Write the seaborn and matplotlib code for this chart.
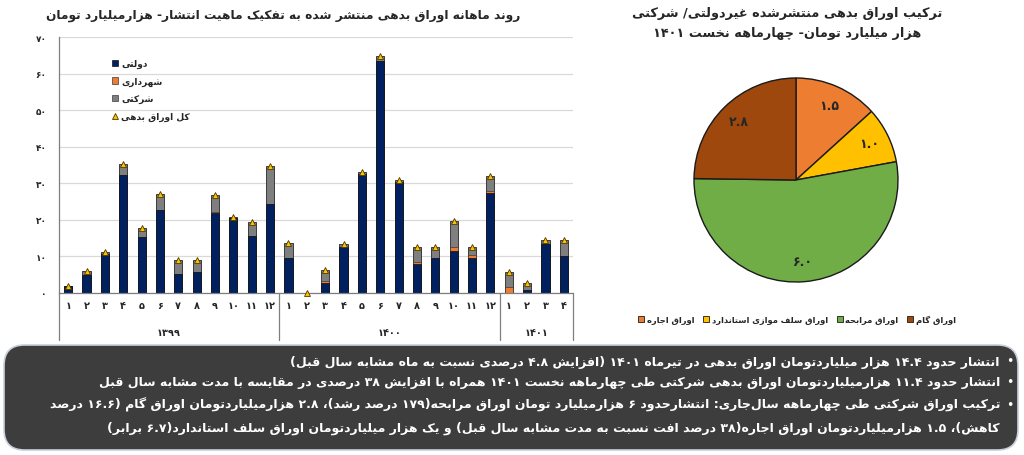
import numpy as np
import pandas as pd
import matplotlib
matplotlib.use("Agg")
import matplotlib.pyplot as plt
import matplotlib.transforms as mtransforms
from matplotlib.patches import FancyBboxPatch, Patch
from matplotlib.lines import Line2D
import seaborn as sns

# ---------------- data ----------------
years = ["۱۳۹۹", "۱۴۰۰", "۱۴۰۱"]
months_per_year = [12, 12, 4]
dolati = [1.8, 4.9, 10.5, 32.3, 15.1, 22.6, 5.0, 5.5, 21.8, 20.3, 15.6, 24.4,
          9.6, 0.0, 2.7, 12.5, 32.5, 63.6, 30.2, 7.8, 9.4, 11.3, 9.6, 27.2,
          0.0, 0.7, 13.3, 9.9]
shahrdari = [0, 0, 0, 0, 0, 0, 0, 0, 0.3, 0, 0, 0,
             0, 0, 0.4, 0, 0, 0, 0, 0.7, 0, 1.3, 0.6, 0.7,
             1.6, 0, 0, 0]
sherkati = [0.0, 1.1, 0.5, 3.0, 2.5, 4.4, 4.0, 3.5, 4.7, 0.3, 3.8, 10.2,
            4.1, 0.0, 3.1, 0.9, 0.6, 1.4, 0.6, 3.9, 3.0, 6.9, 2.3, 4.1,
            3.9, 1.8, 1.1, 4.5]
bar_legend = ["دولتی", "شهرداری", "شرکتی", "کل اوراق بدهی"]

pie_labels = ["اوراق اجاره", "اوراق سلف موازی استاندارد", "اوراق مرابحه", "اوراق گام"]
pie_values = [1.5, 1.0, 6.0, 2.8]
pie_colors = ["#ED7D31", "#FFC000", "#70AD47", "#9E480E"]

title_left = "روند ماهانه اوراق بدهی منتشر شده به تفکیک ماهیت انتشار- هزارمیلیارد تومان"
title_right = ["ترکیب اوراق بدهی منتشرشده غیردولتی/ شرکتی",
               "هزار میلیارد تومان- چهارماهه نخست ۱۴۰۱"]
notes = [
    "انتشار حدود ۱۴.۴ هزار میلیاردتومان اوراق بدهی در تیرماه ۱۴۰۱ (افزایش ۴.۸ درصدی نسبت به ماه مشابه سال قبل)",
    "انتشار حدود ۱۱.۴ هزارمیلیاردتومان اوراق بدهی شرکتی طی چهارماهه نخست ۱۴۰۱ همراه با افزایش ۳۸ درصدی در مقایسه با مدت مشابه سال قبل",
    "ترکیب اوراق شرکتی طی چهارماهه سال\u200cجاری: انتشارحدود ۶ هزارمیلیارد تومان اوراق مرابحه(۱۷۹ درصد رشد)، ۲.۸ هزارمیلیاردتومان اوراق گام (۱۶.۶ درصد",
    "کاهش)، ۱.۵ هزارمیلیاردتومان اوراق اجاره(۳۸ درصد افت نسبت به مدت مشابه سال قبل) و یک هزار میلیاردتومان اوراق سلف استاندارد(۶.۷ برابر)",
]

# ---------------- minimal Persian shaping + bidi ----------------
_F = {
    'ا': (0xFE8D, 0xFE8E, 0, 0), 'آ': (0xFE81, 0xFE82, 0, 0),
    'ب': (0xFE8F, 0xFE90, 0xFE91, 0xFE92), 'پ': (0xFB56, 0xFB57, 0xFB58, 0xFB59),
    'ت': (0xFE95, 0xFE96, 0xFE97, 0xFE98), 'ث': (0xFE99, 0xFE9A, 0xFE9B, 0xFE9C),
    'ج': (0xFE9D, 0xFE9E, 0xFE9F, 0xFEA0), 'چ': (0xFB7A, 0xFB7B, 0xFB7C, 0xFB7D),
    'ح': (0xFEA1, 0xFEA2, 0xFEA3, 0xFEA4), 'خ': (0xFEA5, 0xFEA6, 0xFEA7, 0xFEA8),
    'د': (0xFEA9, 0xFEAA, 0, 0), 'ذ': (0xFEAB, 0xFEAC, 0, 0),
    'ر': (0xFEAD, 0xFEAE, 0, 0), 'ز': (0xFEAF, 0xFEB0, 0, 0), 'ژ': (0xFB8A, 0xFB8B, 0, 0),
    'س': (0xFEB1, 0xFEB2, 0xFEB3, 0xFEB4), 'ش': (0xFEB5, 0xFEB6, 0xFEB7, 0xFEB8),
    'ص': (0xFEB9, 0xFEBA, 0xFEBB, 0xFEBC), 'ض': (0xFEBD, 0xFEBE, 0xFEBF, 0xFEC0),
    'ط': (0xFEC1, 0xFEC2, 0xFEC3, 0xFEC4), 'ظ': (0xFEC5, 0xFEC6, 0xFEC7, 0xFEC8),
    'ع': (0xFEC9, 0xFECA, 0xFECB, 0xFECC), 'غ': (0xFECD, 0xFECE, 0xFECF, 0xFED0),
    'ف': (0xFED1, 0xFED2, 0xFED3, 0xFED4), 'ق': (0xFED5, 0xFED6, 0xFED7, 0xFED8),
    'ک': (0xFB8E, 0xFB8F, 0xFB90, 0xFB91), 'گ': (0xFB92, 0xFB93, 0xFB94, 0xFB95),
    'ل': (0xFEDD, 0xFEDE, 0xFEDF, 0xFEE0), 'م': (0xFEE1, 0xFEE2, 0xFEE3, 0xFEE4),
    'ن': (0xFEE5, 0xFEE6, 0xFEE7, 0xFEE8), 'ه': (0xFEE9, 0xFEEA, 0xFEEB, 0xFEEC),
    'و': (0xFEED, 0xFEEE, 0, 0), 'ی': (0xFBFC, 0xFBFD, 0xFBFE, 0xFBFF),
    'ئ': (0xFE89, 0xFE8A, 0xFE8B, 0xFE8C),
}
_MIRROR = {'(': ')', ')': '(', '[': ']', ']': '[', '<': '>', '>': '<'}
_DIG = set('0123456789۰۱۲۳۴۵۶۷۸۹')


def _dual(c):
    return c in _F and _F[c][2] != 0


def _shape(t):
    out = []
    i, n = 0, len(t)
    while i < n:
        c = t[i]
        if c not in _F:
            if c != '\u200c':
                out.append(c)
            i += 1
            continue
        prev = t[i - 1] if i > 0 else ''
        cp = _dual(prev)
        if c == 'ل' and i + 1 < n and t[i + 1] in 'اآ':
            if t[i + 1] == 'ا':
                out.append(chr(0xFEFC if cp else 0xFEFB))
            else:
                out.append(chr(0xFEF6 if cp else 0xFEF5))
            i += 2
            continue
        nxt = t[i + 1] if i + 1 < n else ''
        cn = _dual(c) and nxt in _F
        iso, fin, ini, med = _F[c]
        f = med if (cp and cn) else fin if cp else ini if cn else iso
        out.append(chr(f))
        i += 1
    return ''.join(out)


def fa(t):
    s = _shape(t)
    toks = []
    i = 0
    while i < len(s):
        if s[i] in _DIG:
            j = i
            while j < len(s) and (s[j] in _DIG or (s[j] in './' and j + 1 < len(s) and s[j + 1] in _DIG)):
                j += 1
            toks.append(s[i:j])
            i = j
        else:
            toks.append(_MIRROR.get(s[i], s[i]))
            i += 1
    return ''.join(reversed(toks))


def fa_num(v):
    return str(v).translate(str.maketrans('0123456789', '۰۱۲۳۴۵۶۷۸۹'))


# ---------------- figure ----------------
sns.set_theme(style="white")
plt.rcParams['font.family'] = ['DejaVu Sans']
W, H = 1024, 456
fig = plt.figure(figsize=(W / 100, H / 100), dpi=100)
renderer = fig.canvas.get_renderer()


def fx(px):
    return px / W


def fy(py):
    return 1 - py / H


def fit_width(txt, target_px):
    for _ in range(3):
        w = txt.get_window_extent(renderer=renderer).width
        txt.set_fontsize(txt.get_fontsize() * target_px / w)
    return txt.get_fontsize()


# ---- bar chart ----
n = len(dolati)
xs = np.arange(n)
df = pd.DataFrame({"x": xs, "dolati": dolati, "shahrdari": shahrdari, "sherkati": sherkati})
df["c1"] = df["dolati"]
df["c2"] = df["dolati"] + df["shahrdari"]
df["total"] = df["c2"] + df["sherkati"]

axL, axB, axR, axT = 59, 293.5, 573, 38.3
ax = fig.add_axes([fx(axL), fy(axB), fx(axR - axL), (axB - axT) / H])
bw = 0.44
sns.barplot(data=df, x="x", y="total", color="#7F7F7F", saturation=1, width=bw,
            edgecolor="#3a3a3a", linewidth=0.7, errorbar=None, ax=ax)
sns.barplot(data=df, x="x", y="c2", color="#ED7D31", saturation=1, width=bw,
            edgecolor="#3a3a3a", linewidth=0.5, errorbar=None, ax=ax)
sns.barplot(data=df, x="x", y="c1", color="#002060", saturation=1, width=bw,
            edgecolor="#111111", linewidth=0.5, errorbar=None, ax=ax)
ax.plot(xs, df["total"], ls="none", marker="^", markersize=4.5, markerfacecolor="#FFC000",
        markeredgecolor="#4d3b00", markeredgewidth=0.6, zorder=5, clip_on=False)

ax.set_xlim(-0.5, n - 0.5)
ax.set_ylim(0, 70)
ax.set_yticks(range(0, 71, 10))
ax.set_yticklabels([fa_num(v) for v in range(0, 71, 10)], fontsize=6.5, fontweight="bold")
ax.tick_params(axis="y", length=0, pad=9)
ax.set_xticks([])
ax.set_xlabel("")
ax.set_ylabel("")
ax.grid(axis="y", color="#d9d9d9", linewidth=0.9)
ax.set_axisbelow(True)
for s in ["top", "right"]:
    ax.spines[s].set_visible(False)
ax.spines["left"].set_color("#7f7f7f")
ax.spines["bottom"].set_color("#7f7f7f")
ax.spines["left"].set_linewidth(0.9)
ax.spines["bottom"].set_linewidth(0.9)

trans = mtransforms.blended_transform_factory(ax.transData, ax.transAxes)
ah = (axB - axT)
start = 0
bounds = [-0.5]
for yr, m in zip(years, months_per_year):
    for k in range(m):
        ax.text(start + k, -12.5 / ah, fa_num(k + 1), transform=trans, ha="center", va="center",
                fontsize=7, fontweight="bold")
    ax.text(start + (m - 1) / 2, -39.5 / ah, yr, transform=trans, ha="center", va="center",
            fontsize=7, fontweight="bold")
    start += m
    bounds.append(start - 0.5)
for b in bounds:
    ax.plot([b, b], [0, -47 / ah], transform=trans, color="#7f7f7f", lw=0.9, clip_on=False)

handles = [Patch(facecolor="#002060", edgecolor="#111111", lw=0.5),
           Patch(facecolor="#ED7D31", edgecolor="#3a3a3a", lw=0.5),
           Patch(facecolor="#7F7F7F", edgecolor="#3a3a3a", lw=0.5),
           Line2D([], [], ls="none", marker="^", markersize=4.5, markerfacecolor="#FFC000",
                  markeredgecolor="#4d3b00", markeredgewidth=0.6)]
ax.legend(handles, [fa(t) for t in bar_legend], loc="upper left",
          bbox_to_anchor=(fx(112), fy(60)), bbox_transform=fig.transFigure,
          frameon=False, handlelength=0.7, handleheight=0.7,
          handletextpad=0.3, labelspacing=0.95, borderaxespad=0, borderpad=0,
          prop={"weight": "bold", "size": 6.5})

t_left = fig.text(fx(283), fy(16), fa(title_left), ha="center", va="center", fontsize=11,
                  fontweight="bold")
fit_width(t_left, 475)

# ---- pie chart ----
r = 102
cx, cy = 796, 181
pad = 1.03
axp = fig.add_axes([fx(cx - r * pad), fy(cy + r * pad), fx(2 * r * pad), 2 * r * pad / H])
wedges, texts = axp.pie(pie_values, colors=pie_colors, startangle=90, counterclock=False,
                        labels=[fa_num(f"{v:.1f}") for v in pie_values], labeldistance=0.8,
                        wedgeprops=dict(edgecolor="#1a1a1a", linewidth=1.0),
                        textprops=dict(fontsize=9, fontweight="bold", color="#262626",
                                       ha="center", va="center"))
axp.set_xlim(-pad, pad)
axp.set_ylim(-pad, pad)
axp.set_aspect("equal")
axp.axis("off")

t_r1 = fig.text(fx(787), fy(13), fa(title_right[0]), ha="center", va="center", fontsize=11,
                fontweight="bold")
t_r2 = fig.text(fx(787), fy(34), fa(title_right[1]), ha="center", va="center", fontsize=11,
                fontweight="bold")
fs_r = fit_width(t_r1, 310)
t_r2.set_fontsize(fs_r)

ph = [Patch(facecolor=c, edgecolor="#1a1a1a", lw=0.6) for c in pie_colors]
fig.legend(ph, [fa(t) for t in pie_labels], loc="center", bbox_to_anchor=(fx(797), fy(320)),
           ncol=4, frameon=False, handlelength=0.7, handleheight=0.7, handletextpad=0.3,
           columnspacing=1.1, prop={"weight": "bold", "size": 6})

# ---- bottom note box ----
box = FancyBboxPatch((fx(4), fy(451)), fx(1014), (451 - 346) / H,
                     boxstyle="round,pad=0,rounding_size=0.02", transform=fig.transFigure,
                     facecolor="#3d3d3d", edgecolor="#c8d0dc", linewidth=1.2,
                     mutation_aspect=W / H)
fig.patches.append(box)
line_y = [362, 383, 405, 428]
note_txt = []
for i, (t, yy) in enumerate(zip(notes, line_y)):
    tt = fig.text(fx(1000), fy(yy), fa(t), ha="right", va="center", fontsize=9.5,
                  fontweight="bold", color="white")
    note_txt.append(tt)
    if i < 3:
        fig.text(fx(1010), fy(yy), "•", ha="center", va="center", fontsize=9,
                 color="white")
fs_n = fit_width(note_txt[1], 900)
for tt in note_txt:
    tt.set_fontsize(fs_n)
w3 = note_txt[2].get_window_extent(renderer=renderer).width
if w3 > 980:
    fit_width(note_txt[2], 980)

fig.savefig("out.png", dpi=100)
